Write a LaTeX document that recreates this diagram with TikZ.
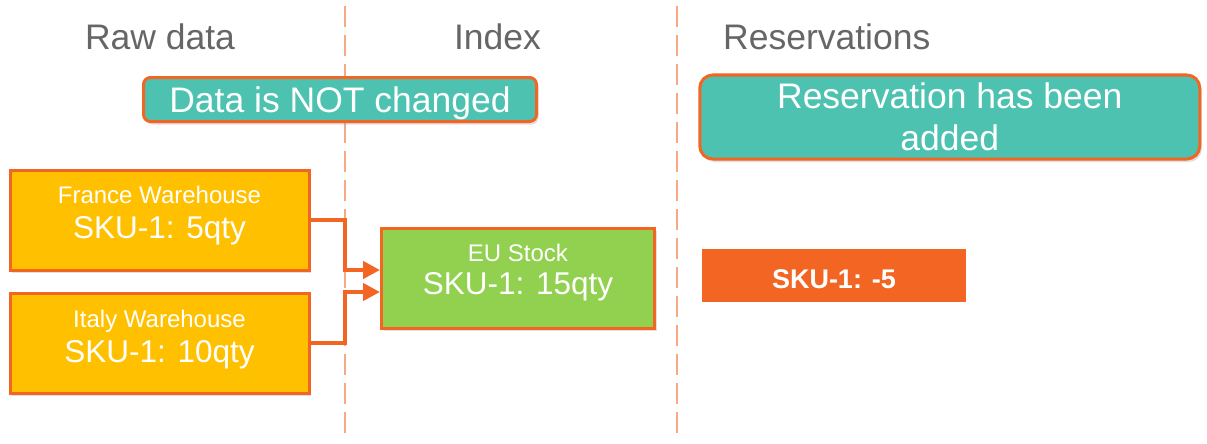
\documentclass[tikz,border=0pt]{standalone}
\usepackage{fontspec}
\setmainfont{Liberation Sans}
\usetikzlibrary{arrows.meta,shadows,calc}
\definecolor{cTeal}{RGB}{77,194,177}
\definecolor{cOrange}{RGB}{242,101,34}
\definecolor{cYellow}{RGB}{255,192,0}
\definecolor{cGreen}{RGB}{146,208,80}
\definecolor{cGray}{RGB}{102,102,102}
\definecolor{cDash}{RGB}{247,168,132}
\begin{document}
\begin{tikzpicture}[x=1pt,y=-1pt,
  hd/.style={text=cGray,font=\fontsize{35.5}{40}\selectfont,anchor=base,inner sep=0},
  shad/.style={drop shadow={opacity=0.25,shadow xshift=2pt,shadow yshift=-3pt}},
  box/.style={draw=cOrange,line width=3pt,inner sep=0,shad},
  note/.style={box,fill=cTeal,rounded corners=#1},
  whbox/.style={box,fill=cYellow},
  eubox/.style={box,fill=cGreen},
  big/.style={text=white,font=\fontsize{35.5}{40}\selectfont,anchor=base,inner sep=0},
  mid/.style={text=white,font=\fontsize{31.5}{36}\selectfont,anchor=base,inner sep=0},
  small/.style={text=white,font=\fontsize{24}{28}\selectfont,anchor=base,inner sep=0},
  divider/.style={draw=cDash,line width=2.8pt,dash pattern=on 21pt off 8pt},
  conn/.style={draw=cOrange,line width=4.8pt,-{Triangle[length=17pt,width=17pt]}}]
\useasboundingbox (0,0) rectangle (1207,444);
\fill[white] (0,0) rectangle (1207,444);

% dividers
\draw[divider] (345,6) -- (345,440);
\draw[divider] (677,6) -- (677,440);

% headings
\node[hd] (hraw) at (160,50) {Raw data};
\node[hd] (hidx) at (497.5,50) {Index};
\node[hd,anchor=base west] (hres) at (723,50) {Reservations};

% notes
\node[note=7pt,minimum width=393pt,minimum height=44pt] (nchg) at (340,99.5) {};
\node[big] (tchg) at (340,112) {Data is NOT changed};
\node[note=13pt,minimum width=500pt,minimum height=84pt] (nres) at (949.8,117) {};
\node[big] (tres1) at (949.8,108.7) {Reservation has been};
\node[big] (tres2) at (949.8,150.8) {added};

% warehouses
\node[whbox,minimum width=299pt,minimum height=100pt] (fr) at (159.5,220) {};
\node[small] (fr1) at (159.5,203) {France Warehouse};
\node[mid] (fr2) at (159.5,238) {SKU-1: 5qty};
\node[whbox,minimum width=299pt,minimum height=100pt] (it) at (159.5,343) {};
\node[small] (it1) at (159.5,327) {Italy Warehouse};
\node[mid] (it2) at (159.5,362) {SKU-1: 10qty};

% EU stock
\node[eubox,minimum width=273pt,minimum height=100pt] (eu) at (518,278) {};
\node[small] (eu1) at (518,261) {EU Stock};
\node[mid] (eu2) at (518,294) {SKU-1: 15qty};

% reservation item
\node[fill=cOrange,inner sep=0,minimum width=264pt,minimum height=53pt] (sku) at (834,275.5) {};
\node[text=white,font=\bfseries\fontsize{27}{30}\selectfont,anchor=base,inner sep=0] (skut) at (834,288.6) {SKU-1: -5};

% connectors
\coordinate (euin1) at ($(eu.west)+(0,-8)$);
\coordinate (euin2) at ($(eu.west)+(0,14)$);
\draw[conn] (fr.east) -- (345,220) |- (euin1);
\draw[conn] (it.east) -- (345,343) |- (euin2);
\end{tikzpicture}
\end{document}
